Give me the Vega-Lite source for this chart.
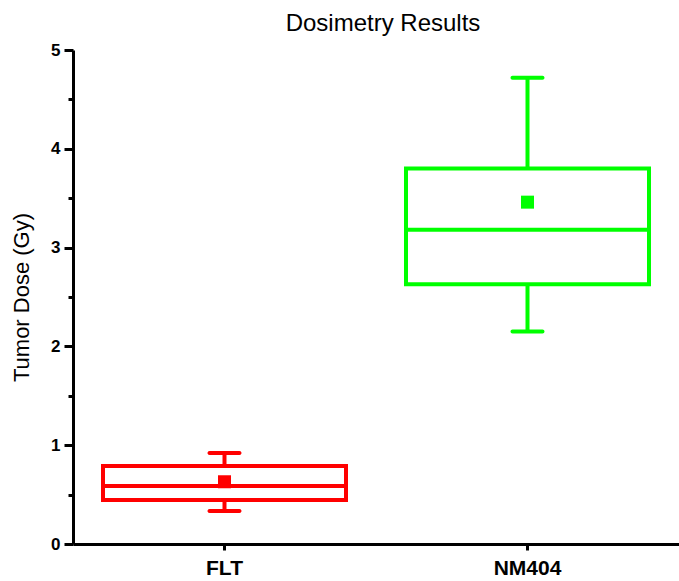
{
  "$schema": "https://vega.github.io/schema/vega-lite/v6.json",
  "autosize": {"type": "none"},
  "width": 606,
  "height": 494,
  "padding": {"left": 73, "top": 50, "right": 0, "bottom": 37},
  "background": "white",
  "title": {"text": "Dosimetry Results", "font": "Liberation Sans", "fontSize": 24, "fontWeight": "normal", "color": "black", "offset": 5, "dx": 7},
  "config": {
    "view": {"stroke": null},
    "font": "Liberation Sans"
  },
  "data": {"values": [
    {"group": "FLT", "min": 0.334, "q1": 0.445, "median": 0.587, "q3": 0.79, "max": 0.92, "mean": 0.63},
    {"group": "NM404", "min": 2.15, "q1": 2.63, "median": 3.18, "q3": 3.80, "max": 4.72, "mean": 3.46}
  ]},
  "encoding": {
    "x": {
      "field": "group", "type": "nominal", "sort": null,
      "scale": {"paddingInner": 0, "paddingOuter": 0},
      "axis": {"title": null, "labelAngle": 0, "labelFont": "Liberation Sans", "labelFontSize": 21, "labelFontWeight": "bold", "labelColor": "black", "labelPadding": 7, "domainColor": "black", "domainWidth": 3, "tickColor": "black", "tickWidth": 3, "tickSize": 6}
    },
    "color": {
      "field": "group", "type": "nominal",
      "scale": {"domain": ["FLT", "NM404"], "range": ["#ff0000", "#00ff00"]},
      "legend": null
    }
  },
  "layer": [
    {
      "mark": {"type": "rule", "strokeWidth": 4},
      "encoding": {
        "y": {
          "field": "min", "type": "quantitative",
          "scale": {"domain": [0, 5], "nice": false, "zero": true},
          "axis": {
            "values": [0, 0.5, 1, 1.5, 2, 2.5, 3, 3.5, 4, 4.5, 5],
            "format": "~g",
            "labelExpr": "datum.value % 1 === 0 ? datum.label : ''",
            "grid": false,
            "title": "Tumor Dose (Gy)",
            "titleFont": "Liberation Sans", "titleFontSize": 22, "titleFontWeight": "normal", "titleColor": "black", "titlePadding": 17,
            "labelFont": "Liberation Sans", "labelFontSize": 17, "labelFontWeight": "bold", "labelColor": "black", "labelPadding": 4,
            "domainColor": "black", "domainWidth": 3,
            "tickColor": "black", "tickWidth": 3,
            "tickSize": {"condition": {"test": "datum.value % 1 !== 0", "value": 5}, "value": 9}
          }
        },
        "y2": {"field": "max"},
        "stroke": {"field": "group", "type": "nominal", "scale": {"domain": ["FLT", "NM404"], "range": ["#ff0000", "#00ff00"]}, "legend": null}
      }
    },
    {
      "mark": {"type": "bar", "fill": "white", "strokeWidth": 4, "size": 243},
      "encoding": {
        "y": {"field": "q1", "type": "quantitative"},
        "y2": {"field": "q3"},
        "stroke": {"field": "group", "type": "nominal", "legend": null}
      }
    },
    {
      "mark": {"type": "tick", "size": 243, "thickness": 4, "opacity": 1},
      "encoding": {"y": {"field": "median", "type": "quantitative"}}
    },
    {
      "mark": {"type": "tick", "size": 34, "thickness": 4, "opacity": 1, "cornerRadius": 2},
      "encoding": {"y": {"field": "max", "type": "quantitative"}}
    },
    {
      "mark": {"type": "tick", "size": 34, "thickness": 4, "opacity": 1, "cornerRadius": 2},
      "encoding": {"y": {"field": "min", "type": "quantitative"}}
    },
    {
      "mark": {"type": "point", "shape": "square", "filled": true, "size": 169, "opacity": 1},
      "encoding": {"y": {"field": "mean", "type": "quantitative"}}
    }
  ]
}
